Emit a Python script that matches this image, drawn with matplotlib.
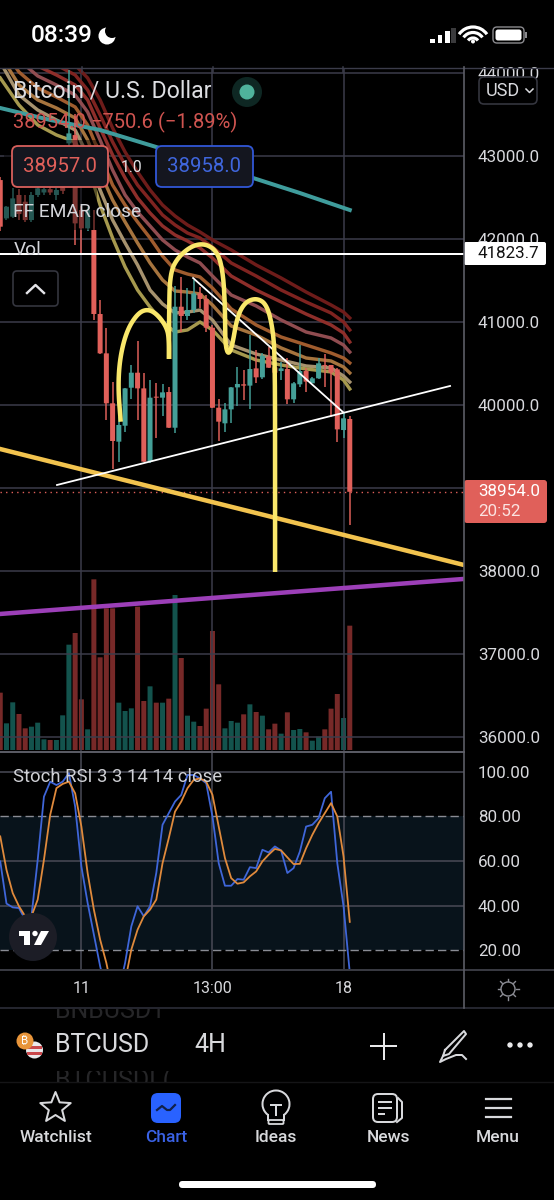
import numpy as np
import matplotlib
matplotlib.use('Agg')
import matplotlib.pyplot as plt
from matplotlib.patches import Rectangle, FancyBboxPatch, Circle, Polygon, Arc

plt.rcParams['font.family'] = ['Roboto', 'DejaVu Sans']

W, H = 554, 1200
RED = '#e0605a'
GREEN = '#45a098'
GRID = '#3b3c4a'
GRID2 = '#4a4b57'
TXT = '#d8d9dd'

# candles, bar index is the position in the list
opens = [42710, 42248, 42268, 42530, 42449, 42228, 42530, 42560, 42600, 42530, 42620, 43152, 43252, 42349, 42128, 42108,
         41096, 40622, 40020, 39558, 39750, 40208, 40389, 40200, 39317, 40100, 40088, 40156, 39726, 41184, 41072, 41144,
         41345, 41277, 40931, 39967, 39779, 39947, 40212, 40249, 40233, 40441, 40333, 40582, 40453, 40409, 40433, 40068,
         40249, 40409, 40261, 40321, 40482, 40482, 40429, 39698, 39831]
closes = [42148, 42389, 42489, 42300, 42228, 42530, 42610, 42600, 42560, 42590, 42580, 43272, 42188, 42128, 42349, 41096,
          40622, 40020, 39566, 39759, 40200, 40389, 40200, 39317, 40088, 40088, 40152, 39726, 41184, 41072, 41144, 41345,
          41277, 40931, 39967, 39799, 39947, 40212, 40253, 40233, 40433, 40333, 40594, 40449, 40389, 40441, 40068, 40261,
          40409, 40281, 40321, 40502, 40470, 40389, 39706, 39839, 38954]
highs = [42750, 42400, 42610, 42600, 42530, 42560, 42650, 42620, 42640, 42610, 42650, 44036, 43500, 42400, 42380, 42349,
         41265, 40923, 40281, 39859, 40210, 40482, 40771, 40381, 40301, 40269, 40249, 40220, 41433, 41546, 41405, 41506,
         41425, 41325, 40963, 40072, 40028, 40212, 40462, 40421, 40843, 40662, 40622, 40702, 40502, 40522, 40562, 40281,
         40723, 40441, 40341, 40562, 40614, 40482, 40441, 39899, 39867]
lows = [42100, 42230, 42248, 42230, 42200, 42200, 42500, 42530, 42530, 42470, 42540, 43072, 41927, 41807, 42100, 41024,
        40614, 39819, 39225, 39317, 39670, 40068, 39819, 39317, 39300, 39598, 39867, 39726, 39658, 40883, 41024, 41104,
        41164, 40883, 39960, 39570, 39678, 39779, 39992, 40060, 39947, 40261, 40309, 40441, 40381, 40301, 40012, 40028,
        40212, 40160, 40261, 40313, 40220, 39859, 39558, 39598, 38554]
volumes = [172, 80, 143, 108, 65, 70, 82, 32, 30, 30, 104, 316, 351, 152, 62, 512, 278, 425, 425, 142, 117, 125, 430, 147,
           191, 142, 142, 154, 465, 276, 103, 85, 72, 124, 357, 197, 65, 87, 82, 107, 137, 114, 103, 62, 79, 49, 113, 60,
           63, 53, 28, 40, 62, 124, 168, 96, 373]
vol_up = [0, 1, 1, 0, 0, 1, 1, 1, 0, 1, 1, 1, 0, 0, 1, 0, 0, 0, 0, 1, 1, 1, 0, 0, 1, 0, 1, 0, 1, 0, 1, 1, 0, 0, 0, 0, 1, 1, 1,
          0, 1, 0, 1, 0, 0, 1, 0, 1, 1, 0, 1, 1, 0, 0, 0, 1, 0]

# stochastic rsi
stoch_k = [59.8, 40.9, 39.2, 38.9, 33.7, 35.2, 60.5, 88.8, 95.5, 94.0, 95.5, 99.3, 84.4, 57.5, 41.2, 27.0, 12.9, 1.0, 1.0,
           2.0, 14.3, 30.7, 39.7, 35.2, 39.7, 54.6, 76.2, 81.4, 86.6, 89.6, 98.5, 98.5, 97.0, 94.8, 79.9, 59.0, 48.9, 48.9,
           51.9, 51.6, 57.2, 56.8, 65.0, 63.8, 66.5, 64.7, 54.6, 56.8, 64.2, 75.4, 76.2, 79.2, 88.1, 91.0, 59.0, 39.7, 9.9]
stoch_d = [71.0, 56.0, 45.6, 39.7, 35.2, 35.2, 42.7, 60.5, 80.6, 92.6, 94.5, 95.5, 90.3, 75.4, 54.6, 38.2, 24.8, 14.3, 1.0,
           1.0, 6.0, 20.3, 29.2, 35.2, 38.2, 42.7, 59.0, 70.2, 82.1, 86.6, 92.6, 96.3, 97.0, 95.5, 89.6, 75.4, 61.3, 52.3,
           49.8, 50.4, 53.1, 55.3, 59.8, 62.8, 65.4, 64.7, 61.6, 58.6, 58.7, 65.7, 71.7, 76.9, 81.4, 85.9, 79.9, 62.0, 32.7]

# long average and EMA ribbon, sampled at these bars
teal_x = [0, 8, 16, 25, 32, 40, 48, 56]
teal_y = [43578, 43434, 43313, 43108, 42952, 42747, 42554, 42349]
rib_x = [0, 3, 6, 9, 12, 14, 16, 18, 20, 22, 24, 26, 28, 30, 32, 34, 37, 41, 45, 49, 53, 55, 56]
rib_1 = [44880, 44518, 44325, 44217, 44096, 43940, 43675, 43337, 43048, 42807, 42590, 42409, 42277, 42169, 42084, 41988,
         41868, 41687, 41530, 41361, 41205, 41120, 41048]
rib_2 = [44759, 44397, 44205, 44096, 43976, 43795, 43494, 43169, 42891, 42650, 42470, 42289, 42169, 42072, 42012, 41904,
         41711, 41554, 41385, 41241, 41108, 41000, 40904]
rib_3 = [44638, 44277, 44084, 43976, 43855, 43675, 43337, 43012, 42735, 42494, 42313, 42157, 42048, 41976, 41892, 41771,
         41554, 41385, 41241, 41096, 40964, 40867, 40759]
rib_4 = [44518, 44156, 43964, 43855, 43735, 43530, 43193, 42831, 42530, 42325, 42157, 41988, 41868, 41783, 41711, 41554,
         41325, 41193, 41024, 40879, 40807, 40723, 40638]
rib_5 = [44337, 44012, 43819, 43711, 43590, 43373, 43012, 42650, 42409, 42205, 42012, 41795, 41627, 41578, 41542, 41409,
         41157, 40964, 40819, 40723, 40626, 40566, 40506]
rib_6 = [44217, 43855, 43675, 43578, 43458, 43193, 42807, 42470, 42205, 41952, 41711, 41506, 41373, 41361, 41337, 41205,
         40952, 40843, 40687, 40566, 40530, 40458, 40386]
rib_7 = [44132, 43735, 43554, 43434, 43313, 43012, 42590, 42229, 41952, 41687, 41385, 41217, 41108, 41120, 41144, 41024,
         40723, 40614, 40542, 40470, 40446, 40349, 40277]
rib_8 = [43940, 43614, 43373, 43253, 43169, 42891, 42409, 42012, 41663, 41385, 41180, 41000, 40879, 40904, 41000, 40904,
         40663, 40542, 40482, 40434, 40398, 40301, 40193]
ribbons = [rib_1, rib_2, rib_3, rib_4, rib_5, rib_6, rib_7, rib_8]
rib_colors = ['#6e1c1a', '#7f2320', '#8e2e2a', '#904c50', '#a05c2e', '#a6743e', '#a6926e', '#a6994e']

# hand drawn pen strokes and trend lines (bar, price)
pen1_x = [19.3, 18.87, 19.19, 20.31, 22.07, 23.68, 25.28, 26.72, 27.04, 27.04]
pen1_y = [39798, 40216, 40578, 40904, 41108, 41157, 41084, 40928, 40783, 40554]
pen2_x = [27.04, 27.04, 27.2, 28.49, 30.89, 33.13, 34.9, 35.7, 36.02, 36.02, 36.5, 37.14, 37.94, 39.22, 41.14, 42.75,
          43.71, 44.03, 44.03, 44.03]
pen2_y = [40554, 41108, 41590, 41783, 41928, 41940, 41831, 41590, 41180, 40747, 40602, 40699, 41060, 41241, 41289, 41205,
          40904, 40506, 38494, 37988]
gold_x, gold_y = [-0.04, 74.3], [39470, 38072]
purple_x, purple_y = [-0.04, 74.3], [37482, 37904]
white1_x, white1_y = [9.09, 72.07], [39036, 40229]
white2_x, white2_y = [30.89, 54.9], [41530, 39915]

price_ticks = [36000, 37000, 38000, 39000, 40000, 41000, 42000, 43000, 44000]
price_labels = ['36000.0', '37000.0', '38000.0', '', '40000.0', '41000.0', '42000.0', '43000.0', '44000.0']
stoch_ticks = [20, 40, 60, 80, 100]
time_ticks = [13, 34, 55]
time_labels = ['11', '13:00', '18']
last_price = 38954.0
line_price = 41823.7


def pt(px):
    return px * 0.72


def box(t, b, l=0, r=464):
    return [l / W, 1 - b / H, (r - l) / W, (b - t) / H]


def chaikin(xs, ys, n=3):
    # corner cutting so the pen strokes look drawn
    p = np.column_stack([xs, ys]).astype(float)
    for _ in range(n):
        q = 0.75 * p[:-1] + 0.25 * p[1:]
        r = 0.25 * p[:-1] + 0.75 * p[1:]
        mid = np.empty((2 * len(q), 2))
        mid[0::2] = q
        mid[1::2] = r
        p = np.vstack([p[0], mid, p[-1]])
    return p[:, 0], p[:, 1]


fig = plt.figure(figsize=(W / 100, H / 100), dpi=100, facecolor='black')
xlim = (-0.04, 74.3)

# volume lives under the price pane
ax_vol = fig.add_axes(box(68, 751), facecolor='black', zorder=1)
vol_bars = ax_vol.bar(range(len(volumes)), volumes, width=0.8,
                      color=['#26a69a' if u else '#ef5350' for u in vol_up], alpha=0.5, linewidth=0)
for b in vol_bars:
    b.set_snap(False)
ax_vol.set_xlim(*xlim)
ax_vol.set_ylim(-3, 2046)
ax_vol.axis('off')

ax = fig.add_axes(box(68, 751), zorder=2)
ax.patch.set_visible(False)
for s in ax.spines.values():
    s.set_visible(False)
ax.set_xlim(*xlim)
ax.set_ylim(35831, 44060)
ax.yaxis.tick_right()
ax.set_yticks(price_ticks)
ax.set_yticklabels(price_labels, fontsize=pt(17), color=TXT)
ax.set_xticks(time_ticks)
ax.set_xticklabels([])
ax.tick_params(length=0, pad=pt(14))
ax.grid(True, color=GRID, lw=1.1, zorder=0)
ax.set_axisbelow(True)

for y, c in zip(ribbons, rib_colors):
    ax.plot(rib_x, y, color=c, lw=pt(3.4), zorder=2, solid_joinstyle='round')
ax.plot(teal_x, teal_y, color='#3f9c9c', lw=pt(4), zorder=2)

idx = np.arange(len(opens))
for i in idx:
    c = GREEN if closes[i] >= opens[i] else RED
    ax.vlines(i, lows[i], highs[i], color=c, lw=pt(1.5), zorder=3)
    body = ax.bar(i, abs(closes[i] - opens[i]), bottom=min(opens[i], closes[i]), width=0.8, color=c, zorder=3, linewidth=0)
    body[0].set_snap(False)

ax.axhline(last_price, color=RED, lw=1, ls=(0, (1, 3)), zorder=3)
ax.axhline(line_price, color='white', lw=pt(2), zorder=4)
ax.plot(gold_x, gold_y, color='#f2c34e', lw=pt(4.5), zorder=5)
ax.plot(purple_x, purple_y, color='#9c3fb8', lw=pt(4.5), zorder=5)
ax.plot(white1_x, white1_y, color='white', lw=pt(1.8), zorder=6)
ax.plot(white2_x, white2_y, color='white', lw=pt(1.8), zorder=6)
for xs, ys in ((pen1_x, pen1_y), (pen2_x, pen2_y)):
    sx, sy = chaikin(xs, ys)
    ax.plot(sx, sy, color='#f9e76b', lw=pt(4.5), zorder=7, solid_capstyle='butt')

# stoch pane
ax2 = fig.add_axes(box(752, 969), facecolor='black', zorder=2)
for s in ax2.spines.values():
    s.set_visible(False)
ax2.set_xlim(*xlim)
ax2.set_ylim(11.6, 108.8)
ax2.axhspan(20, 80, color='#08131b', lw=0, zorder=0)
ax2.yaxis.tick_right()
ax2.set_yticks(stoch_ticks)
ax2.set_yticklabels(['%.2f' % v for v in stoch_ticks], fontsize=pt(17), color=TXT)
ax2.set_xticks(time_ticks)
ax2.set_xticklabels(time_labels, fontsize=pt(16), color=TXT)
ax2.tick_params(length=0)
ax2.tick_params(axis='y', pad=pt(14))
ax2.tick_params(axis='x', pad=pt(12))
ax2.grid(True, color=GRID2, lw=1.1, zorder=1)
ax2.set_axisbelow(True)
for g in ax2.get_ygridlines():
    if g.get_ydata()[0] in (20, 80):
        g.set_visible(False)
ax2.hlines([20, 80], *xlim, color='#8a8c94', lw=1, ls=(0, (6, 3)), zorder=1.5)
ax2.plot(idx, stoch_k, color='#3f66d9', lw=pt(1.8), zorder=3)
ax2.plot(idx, stoch_d, color='#e08a3c', lw=pt(1.8), zorder=4)

# everything around the chart, in screen pixels
ui = fig.add_axes([0, 0, 1, 1], zorder=5)
ui.set_xlim(0, W)
ui.set_ylim(H, 0)
ui.axis('off')
ui.patch.set_visible(False)


def rect(x0, y0, x1, y1, **kw):
    kw.setdefault('linewidth', 0)
    ui.add_patch(Rectangle((x0, y0), x1 - x0, y1 - y0, **kw))


def rbox(x0, y0, x1, y1, rad, **kw):
    ui.add_patch(FancyBboxPatch((x0 + rad, y0 + rad), x1 - x0 - 2 * rad, y1 - y0 - 2 * rad,
                                boxstyle='round,pad=%f,rounding_size=%f' % (rad, rad), **kw))


def label(x, y, s, px, color=TXT, ha='left', **kw):
    return ui.text(x, y, s, fontsize=pt(px), color=color, ha=ha, va='center', **kw)


rect(0, 0, W, 67, facecolor='black')
rect(0, 1008, W, H, facecolor='black')
ui.plot([0, W], [67.5, 67.5], color=GRID, lw=1)
for x in (82, 213, 343):
    ui.plot([x, x], [67, 72], color=GRID, lw=1.1)
ui.plot([0, 464], [751.5, 751.5], color='#5c5d66', lw=1.4)
ui.plot([0, W], [969.5, 969.5], color='#44454f', lw=1.2)
ui.plot([0, W], [1008, 1008], color='#2c2d38', lw=1.2)
ui.plot([464, 464], [67, 1008], color='#5c5d66', lw=1.2)

# legend dims what is behind it
rect(4, 140, 97, 230, facecolor='black', alpha=0.45)

label(13, 91, 'Bitcoin / U.S. Dollar', 23, color='#dddee2')
ui.add_patch(Circle((247, 92), 15, facecolor='#0e2723', lw=0))
ui.add_patch(Circle((247, 92), 7.5, facecolor='#4fb39c', lw=0))
label(13, 122, '38954.0 \u2212750.6 (\u22121.89%)', 20.2, color='#cf5450')
rbox(12, 146, 108, 187, 6, facecolor='#14161f', edgecolor='#d9605c', lw=1.3)
label(60, 167, '38957.0', 20.4, color='#e0605a', ha='center')
label(132, 167, '1.0', 15.5, color='#e4e4e8', ha='center')
rbox(156, 146, 253, 187, 6, facecolor='#14161f', edgecolor='#3157d6', lw=1.3)
label(204.5, 167, '38958.0', 20.4, color='#3f66dc', ha='center')
label(13, 212, 'FF EMAR close', 19.2, color='#d4d5da')
label(14, 250, 'Vol', 19.2, color='#d4d5da')
rbox(13, 271, 58, 306, 4, facecolor='black', edgecolor='#34353e', lw=1.2)
ui.plot([27, 35.5, 44], [293, 285, 293], color='#e4e4e8', lw=pt(2.4))
label(13, 777, 'Stoch RSI 3 3 14 14 close', 18.5, color='#cfd0d5')

# right scale tags
rbox(479, 77, 537, 104, 5, facecolor='black', edgecolor='#34353e', lw=1.2)
label(486, 91, 'USD', 18, color=TXT)
ui.plot([526, 529.5, 533], [89, 92.5, 89], color=TXT, lw=1.1)
rbox(464, 242, 546, 265, 2, facecolor='white', lw=0)
label(478, 254, '%.1f' % line_price, 17, color='#111111')
rbox(464, 480, 547, 523, 3, facecolor='#e0605a', lw=0)
label(478, 492, '%.1f' % last_price, 17, color='white')
label(478, 512, '20:52', 17, color='#fbe3e1')

# tradingview badge
ui.add_patch(Circle((33, 937), 24, facecolor='#1c1d26', lw=0))
ui.add_patch(Polygon([(18.5, 931), (30, 931), (30, 945), (24, 945), (24, 936), (18.5, 936)], facecolor='white', lw=0))
ui.add_patch(Circle((35, 933.5), 2.7, facecolor='white', lw=0))
ui.add_patch(Polygon([(41, 931), (49, 931), (41, 945), (34, 945)], facecolor='white', lw=0))

# sun in the corner
ui.add_patch(Circle((508, 989), 7, facecolor='none', edgecolor='#8d8e96', lw=1))
for a in np.arange(0, 360, 45):
    dx, dy = np.cos(np.radians(a)), np.sin(np.radians(a))
    ui.plot([508 + 8 * dx, 508 + 10.5 * dx], [989 + 8 * dy, 989 + 10.5 * dy], color='#8d8e96', lw=1)

# status bar
label(31, 35, '08:39', 24.5, color='white', fontweight='medium')
ui.add_patch(Circle((107, 36), 8.5, facecolor='white', lw=0))
ui.add_patch(Circle((112, 31), 7, facecolor='black', lw=0))
for x, t, c in ((430, 39, 'white'), (437.5, 35, 'white'), (445, 31, 'white'), (451, 28, '#3a3a3c')):
    rect(x, t, x + 4.5, 43, facecolor=c)
for r, lw_ in ((17, 2.3), (11.5, 2.3), (6, 2.3)):
    ui.add_patch(Arc((473, 44), 2 * r, 2 * r, theta1=215, theta2=325, color='white', lw=lw_))
ui.add_patch(Circle((473, 41.5), 2, facecolor='white', lw=0))
rbox(493, 27, 524, 43, 4, facecolor='none', edgecolor='#8a8a8e', lw=1)
rbox(495.5, 29.5, 521.5, 40.5, 2.5, facecolor='white', lw=0)
rect(525, 32, 526.5, 38, facecolor='#8a8a8e')

# symbol bar, the faded rows scroll behind it
t = label(55, 1011, 'BNBUSDT', 25, color='#262628')
t.set_clip_on(True)
t.set_clip_path(Rectangle((0, 1009), W, 12, transform=ui.transData))
t = label(55, 1081, 'BTCUSDL(', 25, color='#262628')
t.set_clip_on(True)
t.set_clip_path(Rectangle((0, 1071), W, 11, transform=ui.transData))
ui.add_patch(Circle((34.5, 1050), 8.5, facecolor='#e9e9ec', lw=0))
for y in (1046, 1052):
    rect(27, y, 42, y + 2.5, facecolor='#c9484c')
ui.add_patch(Circle((25, 1041), 8.5, facecolor='#e8953a', lw=0))
label(25, 1041, '\u20bf', 11, color='white', ha='center', family=['Inter', 'Noto Sans', 'Lato', 'Open Sans', 'DejaVu Sans'])
label(55, 1045.5, 'BTCUSD', 25, color='#d8d9dc')
label(194, 1045.5, '4H', 25, color='#d8d9dc')
ui.plot([371, 396], [1046, 1046], color='#e8e8ea', lw=pt(2))
ui.plot([383.5, 383.5], [1033.5, 1058.5], color='#e8e8ea', lw=pt(2))
ui.plot([445, 464, 466, 449, 443, 445], [1050, 1031, 1034, 1054, 1056, 1050], color='#d8d9dc', lw=pt(2))
ui.plot([443, 440, 446, 456, 462, 466], [1056, 1062, 1059, 1055, 1055, 1059], color='#d8d9dc', lw=pt(2))
for x in (510, 520, 530):
    ui.add_patch(Circle((x, 1045), 2.7, facecolor='#e8e8ea', lw=0))
ui.plot([0, W], [1082, 1082], color='#151517', lw=1)

# tab bar
tabs = ['Watchlist', 'Chart', 'Ideas', 'News', 'Menu']
tab_x = [55.5, 166, 276, 388, 498]
tab_c = ['#d8d9dc', '#3a62e6', '#d8d9dc', '#d8d9dc', '#d8d9dc']
for s, x, c in zip(tabs, tab_x, tab_c):
    label(x, 1138, s, 17.4, color=c, ha='center', fontweight='medium')
a = np.radians(np.arange(-90, 270, 36))
rad = np.where(np.arange(10) % 2 == 0, 16, 7)
ui.add_patch(Polygon(np.column_stack([55.5 + rad * np.cos(a), 1108 + rad * np.sin(a)]),
                     facecolor='none', edgecolor='#d8d9dc', lw=pt(2), joinstyle='round'))
rbox(151, 1093, 181, 1123, 7, facecolor='#2962ff', lw=0)
ui.plot([157, 162, 167, 170, 175], [1110, 1106, 1110, 1110, 1105], color='#10204a', lw=pt(2.2))
ui.add_patch(Arc((276, 1104), 27, 27, theta1=125, theta2=55, color='#d8d9dc', lw=pt(2)))
ui.plot([268, 268], [1115, 1120], color='#d8d9dc', lw=pt(2))
ui.plot([284, 284], [1115, 1120], color='#d8d9dc', lw=pt(2))
rbox(268.5, 1120, 283.5, 1124, 1, facecolor='none', edgecolor='#d8d9dc', lw=pt(1.8))
ui.plot([271, 281], [1105, 1105], color='#d8d9dc', lw=pt(2))
ui.plot([276, 276], [1105, 1115], color='#d8d9dc', lw=pt(2))
rbox(373, 1094, 397, 1122, 5, facecolor='black', edgecolor='#d8d9dc', lw=pt(2))
ui.plot([398, 402, 402, 397], [1098, 1102, 1118, 1122], color='#d8d9dc', lw=pt(2))
for y, x1 in ((1102, 391), (1108, 391), (1114, 384)):
    ui.plot([379, x1], [y, y], color='#d8d9dc', lw=pt(2))
for y in (1099, 1108, 1117):
    ui.plot([486, 511], [y, y], color='#d8d9dc', lw=pt(2.2))
rbox(179, 1181, 376, 1188, 3.5, facecolor='white', lw=0)

fig.savefig('out.png', dpi=100, facecolor='black')
